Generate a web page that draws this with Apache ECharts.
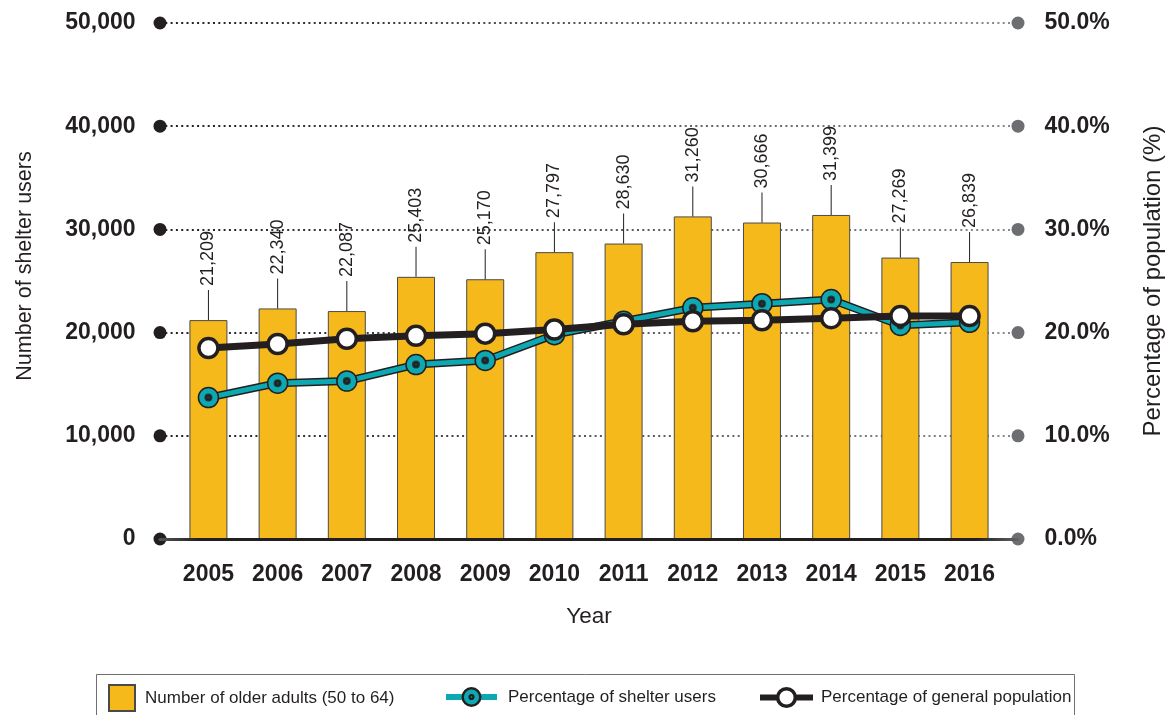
<!DOCTYPE html>
<html>
<head>
<meta charset="utf-8">
<title>Older adults in shelters, 2005–2016</title>
<script src="https://cdn.jsdelivr.net/npm/echarts@6/dist/echarts.min.js"></script>
<style>
  html, body { margin: 0; padding: 0; background: #ffffff; }
  #chart { width: 1173px; height: 715px; }
</style>
</head>
<body>
<div id="chart"></div>
<script>
// ---- data ----
const years = [2005, 2006, 2007, 2008, 2009, 2010, 2011, 2012, 2013, 2014, 2015, 2016];
const olderAdults = [21209, 22340, 22087, 25403, 25170, 27797, 28630, 31260, 30666, 31399, 27269, 26839];
const shelterPct = [13.7, 15.1, 15.3, 16.9, 17.3, 19.8, 21.1, 22.4, 22.8, 23.2, 20.7, 21.0];
const generalPct = [18.5, 18.9, 19.4, 19.7, 19.9, 20.3, 20.8, 21.1, 21.2, 21.4, 21.6, 21.6];

const NAME_BARS = 'Number of older adults (50 to 64)';
const NAME_SHELTER = 'Percentage of shelter users';
const NAME_GENERAL = 'Percentage of general population';

// ---- style ----
const INK = '#231f20';
const GREY = '#6d6e71';
const GOLD = '#f6b91b';
const TEAL = '#0ea8b2';
const FONT = '"Liberation Sans", Arial, sans-serif';

// teal marker: outer disc plus a small inner circle whose stroke reads as a dark centre
const RING_DOT = 'path://M19.2,10A9.2,9.2,0,1,1,0.8,10A9.2,9.2,0,1,1,19.2,10Z' +
                 'M12,10A2,2,0,1,1,8,10A2,2,0,1,1,12,10Z';

const fmtCount = v => Math.round(v).toString().replace(/\B(?=(\d{3})+(?!\d))/g, ',');
const pairs = vals => years.map((y, i) => [y, vals[i]]);

const chart = echarts.init(document.getElementById('chart'), null, { renderer: 'canvas' });

const dot = color => ({ width: 13, height: 13, borderRadius: 6.5, backgroundColor: color });
const tickText = { color: INK, fontFamily: FONT, fontWeight: 'bold', fontSize: 23 };
const legendText = pad => ({ color: INK, fontFamily: FONT, fontSize: 17, padding: [0, 0, 0, pad] });

const option = {
  animation: false,
  backgroundColor: '#ffffff',
  grid: { left: 160, right: 153, top: 23, bottom: 176, containLabel: false },
  xAxis: {
    type: 'value',
    min: 2004.3,
    max: 2016.7,
    z: 5,
    axisLine: {
      show: true,
      lineStyle: {
        width: 3,
        color: { type: 'linear', x: 0, y: 0, x2: 1, y2: 0,
          colorStops: [{ offset: 0, color: '#555' }, { offset: 0.05, color: INK }, { offset: 0.95, color: INK }, { offset: 1, color: '#666' }] }
      }
    },
    axisTick: { show: false },
    splitLine: { show: false },
    axisLabel: Object.assign({ customValues: years, formatter: v => String(v), margin: 24 }, tickText),
    name: 'Year',
    nameLocation: 'middle',
    nameGap: 66,
    nameTextStyle: { color: INK, fontFamily: FONT, fontSize: 22.5 }
  },
  yAxis: [
    {
      type: 'value',
      min: 0,
      max: 50000,
      interval: 10000,
      position: 'left',
      axisLine: { show: false },
      axisTick: { show: false },
      splitLine: {
        show: true,
        lineStyle: {
          type: [2, 3.3],
          width: 2,
          color: { type: 'linear', x: 0, y: 0, x2: 1, y2: 0,
            colorStops: [{ offset: 0, color: INK }, { offset: 1, color: '#8a8b8e' }] }
        }
      },
      axisLabel: {
        margin: -6.5,
        formatter: v => '{v|' + fmtCount(v) + '}{g|}{d|}',
        rich: { v: tickText, g: { width: 18 }, d: dot(INK) }
      },
      name: 'Number of shelter users',
      nameLocation: 'middle',
      nameRotate: 90,
      nameGap: 124,
      nameTextStyle: { color: INK, fontFamily: FONT, fontSize: 21.5, padding: [0, 0, 0, 30] }
    },
    {
      type: 'value',
      min: 0,
      max: 50,
      interval: 10,
      position: 'right',
      axisLine: { show: false },
      axisTick: { show: false },
      splitLine: { show: false },
      axisLabel: {
        margin: -6.5,
        formatter: v => '{d|}{g|}{v|' + v.toFixed(1) + '%}',
        rich: { v: tickText, g: { width: 20 }, d: dot(GREY) }
      },
      name: 'Percentage of population (%)',
      nameLocation: 'middle',
      nameRotate: 90,
      nameGap: 123,
      nameTextStyle: { color: INK, fontFamily: FONT, fontSize: 24 }
    }
  ],
  legend: [
    {
      left: 108, top: 684, padding: 0,
      itemWidth: 26, itemHeight: 26,
      data: [{ name: NAME_BARS, icon: 'rect' }],
      textStyle: legendText(5)
    },
    {
      left: 443, top: 687, padding: 0,
      itemWidth: 51, itemHeight: 22,
      data: [{
        name: NAME_SHELTER,
        itemStyle: { color: TEAL, borderColor: INK, borderWidth: 2.4 },
        lineStyle: { color: TEAL, width: 6 }
      }],
      textStyle: legendText(6)
    },
    {
      left: 757, top: 687, padding: 0,
      itemWidth: 53, itemHeight: 22,
      data: [{
        name: NAME_GENERAL,
        itemStyle: { color: '#ffffff', borderColor: INK, borderWidth: 3.5 },
        lineStyle: { color: INK, width: 6 }
      }],
      textStyle: legendText(3)
    }
  ],
  graphic: [
    {
      type: 'rect',
      silent: true,
      shape: { x: 96.5, y: 674.5, width: 978, height: 80 },
      style: { fill: 'none', stroke: '#6f6f6f', lineWidth: 1 }
    }
  ],
  series: [
    {
      type: 'bar',
      name: NAME_BARS,
      yAxisIndex: 0,
      data: pairs(olderAdults),
      barWidth: 38,
      itemStyle: { color: GOLD, borderColor: '#4a4a4a', borderWidth: 1 },
      label: {
        show: true,
        position: 'top',
        distance: 0,
        rotate: 90,
        align: 'left',
        verticalAlign: 'middle',
        formatter: p => '{l|}{v|' + fmtCount(p.value[1]) + '}',
        rich: {
          l: { width: 30, height: 1, backgroundColor: INK },
          v: { color: INK, fontFamily: FONT, fontSize: 18, padding: [0, 0, 0, 4] }
        }
      },
      z: 2
    },
    {
      // dark casing under the teal line
      type: 'line',
      yAxisIndex: 1,
      data: pairs(shelterPct),
      symbol: 'none',
      lineStyle: { color: INK, width: 8 },
      silent: true,
      z: 3
    },
    {
      type: 'line',
      name: NAME_SHELTER,
      yAxisIndex: 1,
      data: pairs(shelterPct),
      symbol: RING_DOT,
      symbolSize: 20,
      lineStyle: { color: TEAL, width: 5 },
      itemStyle: { color: TEAL, borderColor: INK, borderWidth: 1.5 },
      z: 4
    },
    {
      // centre dots of the teal markers
      type: 'scatter',
      yAxisIndex: 1,
      data: pairs(shelterPct),
      symbol: 'circle',
      symbolSize: 8,
      itemStyle: { color: INK },
      silent: true,
      z: 5
    },
    {
      type: 'line',
      name: NAME_GENERAL,
      yAxisIndex: 1,
      data: pairs(generalPct),
      symbol: 'circle',
      symbolSize: 19,
      lineStyle: { color: INK, width: 7 },
      itemStyle: { color: '#ffffff', borderColor: INK, borderWidth: 3.5 },
      z: 6
    }
  ]
};

chart.setOption(option);
</script>
</body>
</html>
